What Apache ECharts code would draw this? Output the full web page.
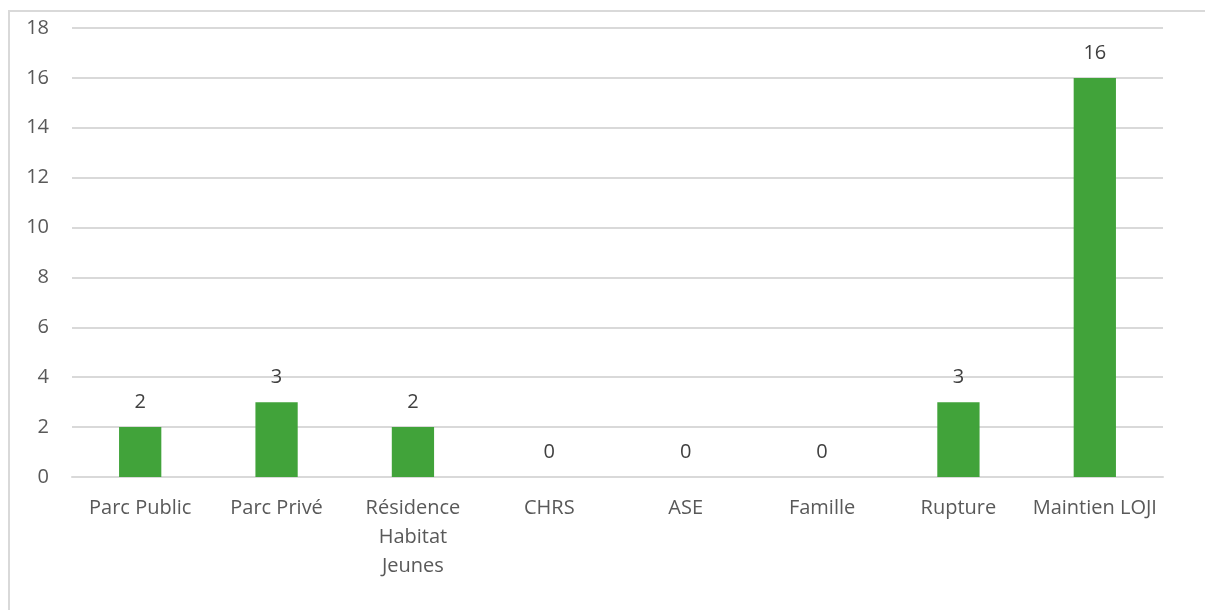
<!DOCTYPE html>
<html>
<head>
<meta charset="utf-8">
<script src="https://cdn.jsdelivr.net/npm/echarts@6/dist/echarts.min.js"></script>
<style>
  html, body { margin: 0; padding: 0; background: #fff; }
  #frame { position: absolute; left: 8px; top: 10px; width: 1300px; height: 700px; border-left: 2px solid #d9d9d9; border-top: 2px solid #d9d9d9; }
  #chart { position: absolute; left: 0; top: 0; width: 1205px; height: 610px; }
</style>
</head>
<body>
<div id="frame"></div>
<div id="chart"></div>
<script>
const categories = ["Parc Public", "Parc Privé", "Résidence\nHabitat\nJeunes", "CHRS", "ASE", "Famille", "Rupture", "Maintien LOJI"];
const values = [2, 3, 2, 0, 0, 0, 3, 16];
const yMin = 0, yMax = 18, yStep = 2;

const font = "'Open Sans', 'Noto Sans', sans-serif";
const chart = echarts.init(document.getElementById("chart"), null, { renderer: "canvas" });
chart.setOption({
  animation: false,
  grid: { left: 72, right: 42, top: 28, bottom: 133, containLabel: false },
  xAxis: {
    type: "category",
    data: categories,
    axisLine: { show: true, lineStyle: { color: "#d9d9d9", width: 2 } },
    axisTick: { show: false },
    axisLabel: { color: "#595959", fontFamily: font, fontSize: 20, margin: 17, lineHeight: 29, interval: 0 }
  },
  yAxis: {
    type: "value",
    min: yMin, max: yMax, interval: yStep,
    axisLine: { show: false },
    axisTick: { show: false },
    splitLine: { lineStyle: { color: "#d9d9d9", width: 2 } },
    axisLabel: { color: "#595959", fontFamily: font, fontSize: 20, margin: 23 }
  },
  series: [{
    type: "bar",
    data: values,
    barWidth: "31%",
    itemStyle: { color: "#41a33a" },
    label: { show: true, position: "top", distance: 15, color: "#404040", fontFamily: font, fontSize: 20 }
  }]
});
</script>
</body>
</html>
